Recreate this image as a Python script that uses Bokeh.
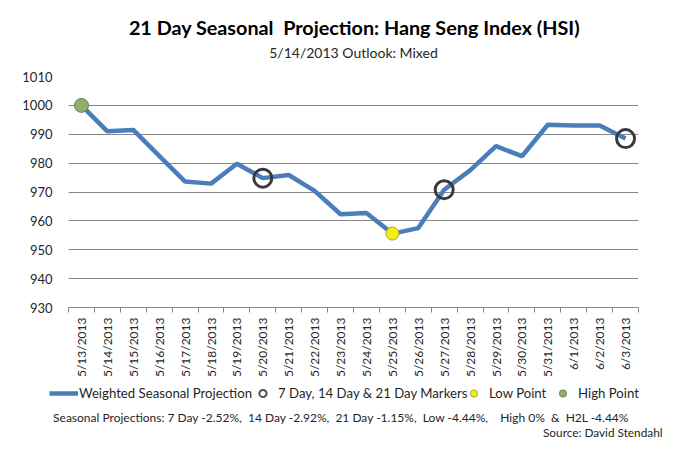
from bokeh.plotting import figure
from bokeh.layouts import column
from bokeh.models import (FixedTicker, Legend, LegendItem, Range1d, Label)
from bokeh.embed import file_html
from bokeh.resources import INLINE
import math

dates = ["5/13/2013", "5/14/2013", "5/15/2013", "5/16/2013", "5/17/2013", "5/18/2013",
         "5/19/2013", "5/20/2013", "5/21/2013", "5/22/2013", "5/23/2013", "5/24/2013",
         "5/25/2013", "5/26/2013", "5/27/2013", "5/28/2013", "5/29/2013", "5/30/2013",
         "5/31/2013", "6/1/2013", "6/2/2013", "6/3/2013"]
projection = [1000, 991, 991.5, 982.5, 973.6, 972.9, 979.8, 974.8, 975.9, 970.4, 962.3, 962.7,
              955.6, 957.5, 970.8, 977.5, 985.9, 982.4, 993.3, 993.0, 993.0, 988.5]
marker_dates = ["5/20/2013", "5/27/2013", "6/3/2013"]
low_date = "5/25/2013"
high_date = "5/13/2013"
y_ticks = [930, 940, 950, 960, 970, 980, 990, 1000, 1010]

NB = "\u00a0"
title_text = "21 Day Seasonal" + NB + " Projection: Hang Seng Index (HSI)"
subtitle_text = "5/14/2013 Outlook: Mixed"
legend_labels = ["Weighted Seasonal Projection", "7 Day, 14 Day & 21 Day Markers", "Low Point", "High Point"]
stats_text = ("Seasonal Projections: 7 Day -2.52%," + NB + " 14 Day -2.92%," + NB + " 21 Day -1.15%,"
              + NB + " Low -4.44%," + NB * 3 + " High 0%" + NB + " &" + NB + " H2L -4.44%")
source_text = "Source: David Stendahl"

FONT = "Lato"
TXT = "#262626"
GRID = "#868686"
BLUE = "#4a7ebb"
RING = "#3a3a3a"
LOW_FILL, LOW_LINE = "#f0f018", "#a8a830"
HI_FILL, HI_LINE = "#93ad6b", "#6f7f5a"

idx = list(range(len(dates)))
pos = {d: i for i, d in enumerate(dates)}
mk_x = [pos[d] for d in marker_dates]
mk_y = [projection[pos[d]] for d in marker_dates]
lo_x, lo_y = [pos[low_date]], [projection[pos[low_date]]]
hi_x, hi_y = [pos[high_date]], [projection[pos[high_date]]]

W = 665
H0 = 68
H1 = 8 + 232 + 72
H2 = 441 - H0 - H1


def strip(h):
    f = figure(width=W, height=h, output_backend="svg", toolbar_location=None,
               x_range=Range1d(0, W), y_range=Range1d(0, h),
               x_axis_type=None, y_axis_type=None,
               min_border_left=0, min_border_right=0, min_border_top=0, min_border_bottom=0)
    f.outline_line_color = None
    f.grid.visible = False
    f.background_fill_color = "white"
    f.border_fill_color = "white"
    return f


# ---------------- title strip ----------------
t = strip(H0)
t.add_layout(Label(x=354, y=H0 - 26, x_units="screen", y_units="screen", text=title_text,
                   text_font=FONT, text_font_style="bold", text_font_size="19.8px", text_color="black",
                   text_align="center", text_baseline="middle"))
t.add_layout(Label(x=353, y=H0 - 52, x_units="screen", y_units="screen", text=subtitle_text,
                   text_font=FONT, text_font_size="14px", text_color=TXT,
                   text_align="center", text_baseline="middle"))

# ---------------- main chart ----------------
p = figure(width=W, height=H1, output_backend="svg", toolbar_location=None,
           x_range=Range1d(-0.5, len(dates) - 0.5), y_range=Range1d(930, 1010),
           min_border_left=68, min_border_right=27, min_border_top=8, min_border_bottom=72)
p.outline_line_color = None
p.background_fill_color = "white"
p.border_fill_color = "white"

p.yaxis.ticker = FixedTicker(ticks=y_ticks)
p.yaxis.axis_line_color = None
p.yaxis.major_tick_line_color = None
p.yaxis.minor_tick_line_color = None
p.yaxis.major_label_text_font = FONT
p.yaxis.major_label_text_font_size = "13px"
p.yaxis.major_label_text_color = TXT
p.yaxis.major_label_standoff = 10

p.xaxis.ticker = FixedTicker(ticks=idx, minor_ticks=[i - 0.5 for i in range(len(dates) + 1)])
p.xaxis.major_label_overrides = {i: d for i, d in enumerate(dates)}
p.xaxis.major_label_orientation = math.pi / 2
p.xaxis.major_tick_line_color = None
p.xaxis.major_tick_out = 0
p.xaxis.minor_tick_line_color = GRID
p.xaxis.minor_tick_in = 0
p.xaxis.minor_tick_out = 5
p.xaxis.axis_line_color = GRID
p.xaxis.major_label_text_font = FONT
p.xaxis.major_label_text_font_size = "12px"
p.xaxis.major_label_text_color = TXT
p.xaxis.major_label_standoff = 5

p.xgrid.grid_line_color = None
p.ygrid.ticker = FixedTicker(ticks=y_ticks)
p.ygrid.grid_line_color = GRID
p.ygrid.grid_line_width = 1

p.line(idx, projection, line_color=BLUE, line_width=4.5)
p.scatter(mk_x, mk_y, size=18, fill_color=None, line_color=RING, line_width=3)
p.scatter(lo_x, lo_y, size=13, fill_color=LOW_FILL, line_color=LOW_LINE, line_width=1)
p.scatter(hi_x, hi_y, size=14, fill_color=HI_FILL, line_color=HI_LINE, line_width=1)

# ---------------- legend & notes strip ----------------
q = strip(H2)

# legend proxies: the series data, far outside this strip's range
r_line = q.line(idx, projection, line_color=BLUE, line_width=4.5)
r_ring = q.scatter(mk_x, mk_y, fill_color=None, line_color="#505050", line_width=2)
r_low = q.scatter(lo_x, lo_y, fill_color=LOW_FILL, line_color=LOW_LINE, line_width=1)
r_hi = q.scatter(hi_x, hi_y, fill_color=HI_FILL, line_color=HI_LINE, line_width=1)

leg_x = [49, 248, 459, 548]
for lab, r, lx in zip(legend_labels, [r_line, r_ring, r_low, r_hi], leg_x):
    lg = Legend(items=[LegendItem(label=lab, renderers=[r])], location=(lx, H2 - 13 - 9))
    lg.border_line_color = None
    lg.background_fill_alpha = 0
    lg.padding = 0
    lg.margin = 0
    lg.glyph_width = 29
    lg.glyph_height = 18
    lg.label_height = 18
    lg.label_standoff = 1
    lg.label_text_font = FONT
    lg.label_text_font_size = "13.2px"
    lg.label_text_color = TXT
    q.add_layout(lg)

q.add_layout(Label(x=341, y=H2 - 37, x_units="screen", y_units="screen", text=stats_text,
                   text_font=FONT, text_font_size="12px", text_color=TXT,
                   text_align="center", text_baseline="middle"))
q.add_layout(Label(x=662, y=9, x_units="screen", y_units="screen", text=source_text,
                   text_font=FONT, text_font_size="11.8px", text_color=TXT,
                   text_align="right", text_baseline="middle"))

for fig in (t, p, q):
    if "frame_align" in fig.properties():
        fig.frame_align = False

layout = column(t, p, q, spacing=0)
open("out.html", "w").write(file_html(layout, INLINE))
